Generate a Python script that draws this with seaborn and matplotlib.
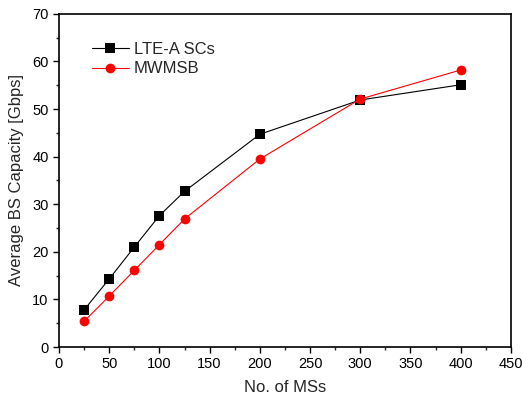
import matplotlib
matplotlib.use("Agg")
import matplotlib.pyplot as plt
import seaborn as sns
import pandas as pd
from matplotlib.ticker import MultipleLocator

ms_count = [25, 50, 75, 100, 125, 200, 300, 400]
lte_a = [7.8, 14.3, 21.0, 27.6, 32.7, 44.7, 51.9, 55.1]
mwmsb = [5.4, 10.7, 16.1, 21.5, 26.9, 39.5, 52.1, 58.2]

sns.set_theme(style="ticks")
plt.rcParams['font.family'] = ['Liberation Sans', 'DejaVu Sans']

df = pd.DataFrame({
    "x": ms_count * 2,
    "y": lte_a + mwmsb,
    "series": ["LTE-A SCs"] * len(ms_count) + ["MWMSB"] * len(ms_count),
})

fig = plt.figure(figsize=(5.23, 3.99), dpi=100)
ax = fig.add_axes([0.1128, 0.1303, 0.864, 0.835])

sns.lineplot(data=df, x="x", y="y", hue="series", style="series",
             palette={"LTE-A SCs": "black", "MWMSB": "red"},
             markers={"LTE-A SCs": "s", "MWMSB": "o"}, dashes=False,
             markersize=7, linewidth=0.8, markeredgewidth=0, ax=ax)

ax.set_xlim(0, 450)
ax.set_ylim(0, 70)
ax.xaxis.set_major_locator(MultipleLocator(50))
ax.xaxis.set_minor_locator(MultipleLocator(25))
ax.yaxis.set_major_locator(MultipleLocator(10))
ax.yaxis.set_minor_locator(MultipleLocator(5))
ax.tick_params(which='major', direction='out', length=4, width=1, labelsize=10.5, colors='black')
ax.tick_params(which='minor', direction='out', length=2.5, width=1)
for s in ax.spines.values():
    s.set_linewidth(1.2)
    s.set_color('black')
ax.set_xlabel("No. of MSs", fontsize=12, labelpad=6)
ax.set_ylabel("Average BS Capacity [Gbps]", fontsize=12, labelpad=6)

leg = ax.legend(loc='upper left', bbox_to_anchor=(0.04, 0.96), frameon=False,
                fontsize=12, handlelength=2.2, labelspacing=0.25, handletextpad=0.3)

fig.savefig("out.png", dpi=100)
